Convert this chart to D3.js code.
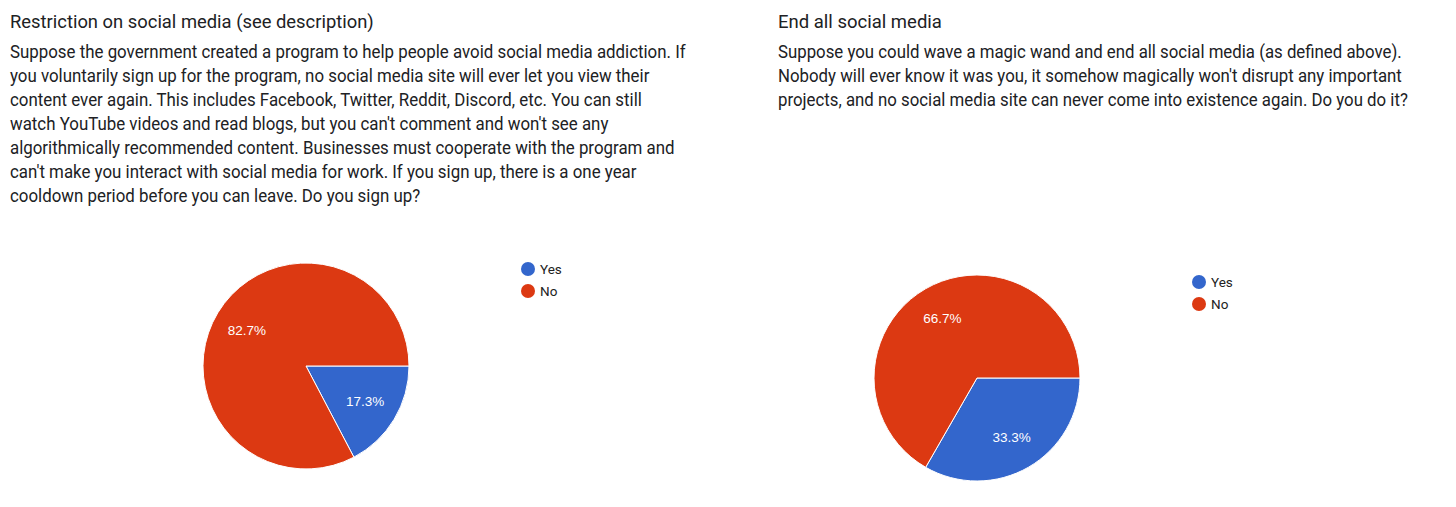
<!DOCTYPE html>
<html>
<head>
<meta charset="utf-8">
<script src="https://cdn.jsdelivr.net/npm/d3@7"></script>
<style>
  body { margin: 0; background: #fff; }
  svg { display: block; }
</style>
</head>
<body>
<div id="chart-area"></div>
<script>
// data
const categories = ["Yes", "No"];
const colors = ["#3366cc", "#dc3912"];

const leftTitle = "Restriction on social media (see description)";
const leftDescription = [
  "Suppose the government created a program to help people avoid social media addiction. If",
  "you voluntarily sign up for the program, no social media site will ever let you view their",
  "content ever again. This includes Facebook, Twitter, Reddit, Discord, etc. You can still",
  "watch YouTube videos and read blogs, but you can't comment and won't see any",
  "algorithmically recommended content. Businesses must cooperate with the program and",
  "can't make you interact with social media for work. If you sign up, there is a one year",
  "cooldown period before you can leave. Do you sign up?"
];
const leftValues = [17.3, 82.7];

const rightTitle = "End all social media";
const rightDescription = [
  "Suppose you could wave a magic wand and end all social media (as defined above).",
  "Nobody will ever know it was you, it somehow magically won't disrupt any important",
  "projects, and no social media site can never come into existence again. Do you do it?"
];
const rightValues = [33.3, 66.7];

// canvas
const svgWidth = 1456,
      svgHeight = 507;

var svg = d3.select("#chart-area")
    .append("svg")
    .attr("width", svgWidth)
    .attr("height", svgHeight);

var colorScale = d3.scaleOrdinal()
    .domain(categories)
    .range(colors);

const radius = 103;

var pie = d3.pie()
    .sort(null)
    .startAngle(Math.PI / 2)
    .endAngle(Math.PI / 2 + 2 * Math.PI)
    .value(function(d){ return d.value; });

var arc = d3.arc()
    .innerRadius(0)
    .outerRadius(radius);

var labelArc = d3.arc()
    .innerRadius(radius * 0.67)
    .outerRadius(radius * 0.67);

// squeeze a text block horizontally so its first line spans the given width
function fitWidth(group, firstNode, width){
    var natural = firstNode.getComputedTextLength();
    group.attr("transform", "scale(" + (width / natural) + ",1)");
}

function drawPanel(opts){
    var panel = svg.append("g")
        .attr("transform", "translate(" + opts.x + ",0)");

    // title
    var titleGroup = panel.append("g");
    var title = titleGroup.append("text")
        .attr("x", 0)
        .attr("y", opts.titleY)
        .attr("font-family", "Roboto")
        .attr("font-size", "18px")
        .attr("fill", "#202124")
        .text(opts.title);
    fitWidth(titleGroup, title.node(), opts.titleWidth);

    // description
    var descGroup = panel.append("g");
    var lines = descGroup.selectAll("text.desc")
        .data(opts.description)
        .enter()
        .append("text")
        .attr("class", "desc")
        .attr("x", 0)
        .attr("y", function(d, i){ return opts.descY + i * 24; })
        .attr("font-family", "Roboto")
        .attr("font-size", "18px")
        .attr("fill", "#202124")
        .text(function(d){ return d; });
    fitWidth(descGroup, lines.node(), opts.descWidth);

    // pie
    var data = categories.map(function(c, i){ return {label: c, value: opts.values[i]}; });
    var pieGroup = panel.append("g")
        .attr("transform", "translate(" + opts.cx + "," + opts.cy + ")");

    var slices = pieGroup.selectAll("g.slice")
        .data(pie(data))
        .enter()
        .append("g")
        .attr("class", "slice");

    slices.append("path")
        .attr("d", arc)
        .attr("fill", function(d){ return colorScale(d.data.label); })
        .attr("stroke", "#fff")
        .attr("stroke-width", 1);

    slices.append("text")
        .attr("transform", function(d){ return "translate(" + labelArc.centroid(d) + ")"; })
        .attr("text-anchor", "middle")
        .attr("dy", "0.35em")
        .attr("font-family", "Arial, 'Liberation Sans', sans-serif")
        .attr("font-size", "13.5px")
        .attr("fill", "#fff")
        .text(function(d){ return d3.format(".1f")(d.data.value) + "%"; });

    // legend
    var legend = panel.append("g")
        .attr("transform", "translate(" + opts.legendX + "," + opts.legendY + ")");

    categories.forEach(function(c, i){
        var row = legend.append("g")
            .attr("transform", "translate(0," + (i * 22) + ")");
        row.append("circle")
            .attr("r", 7)
            .attr("fill", colorScale(c));
        row.append("text")
            .attr("x", 12)
            .attr("dy", "0.35em")
            .attr("font-family", "Roboto")
            .attr("font-size", "13.5px")
            .attr("fill", "#222")
            .text(c);
    });
}

drawPanel({
    x: 10, title: leftTitle, description: leftDescription, values: leftValues,
    titleY: 28, titleWidth: 364, descY: 58, descWidth: 676,
    cx: 296, cy: 366, legendX: 518, legendY: 269
});

drawPanel({
    x: 778, title: rightTitle, description: rightDescription, values: rightValues,
    titleY: 28, titleWidth: 164, descY: 58, descWidth: 624,
    cx: 199, cy: 378, legendX: 421, legendY: 282
});
</script>
</body>
</html>
